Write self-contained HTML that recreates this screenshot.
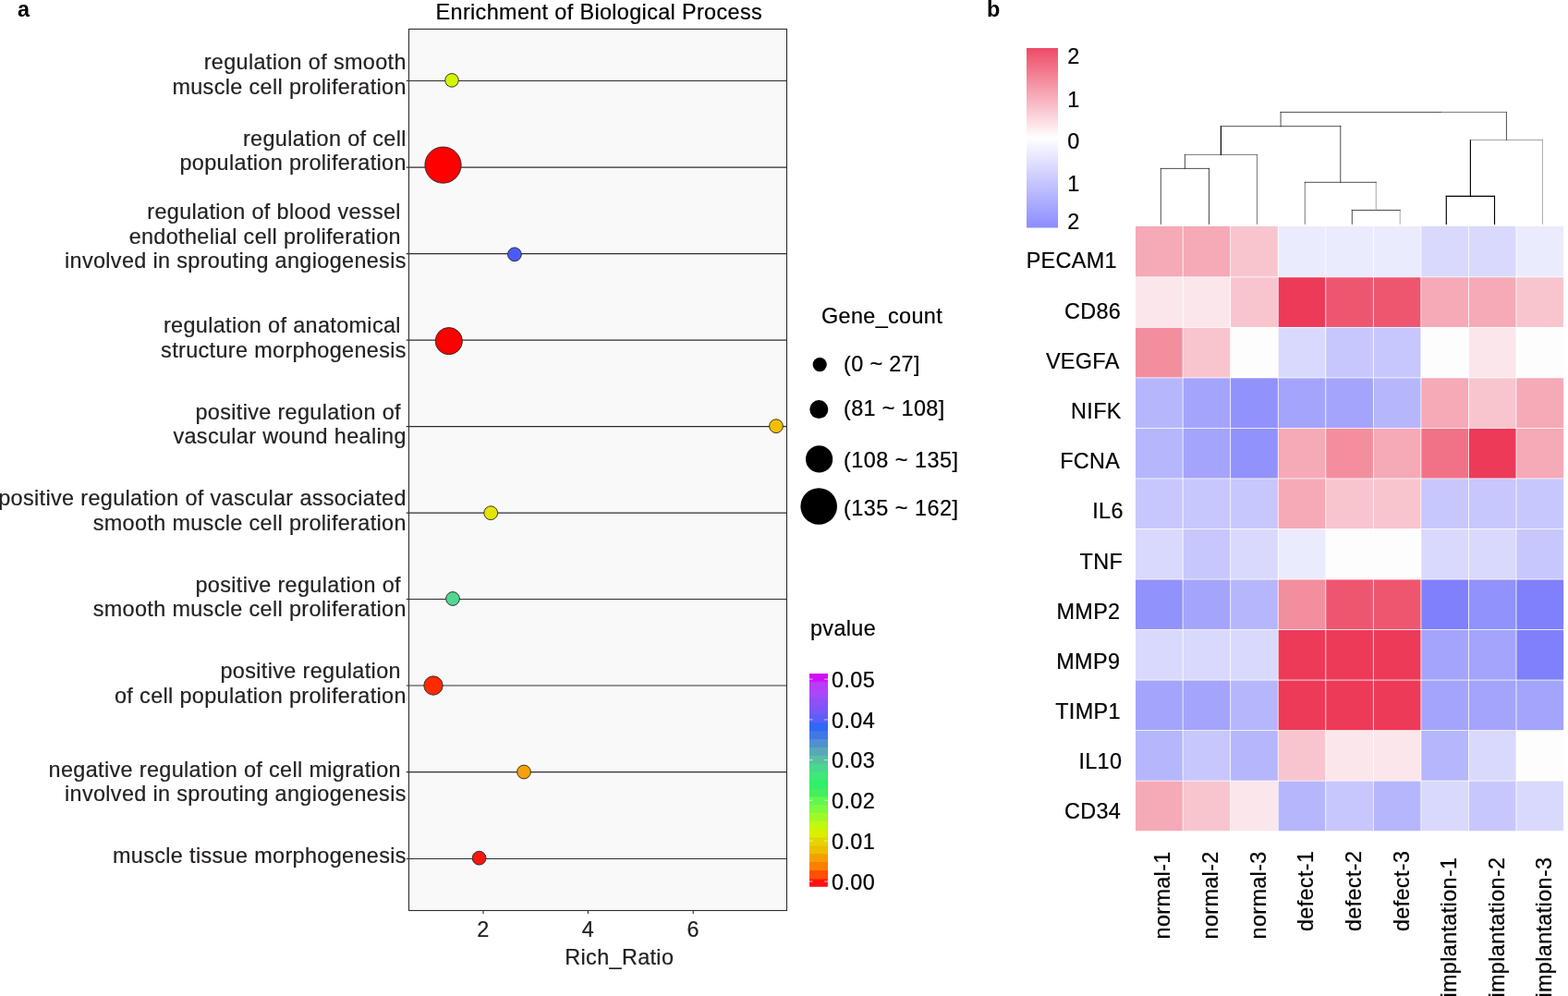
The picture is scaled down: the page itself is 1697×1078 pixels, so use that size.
<!DOCTYPE html>
<html lang="en">
<head>
<meta charset="utf-8">
<title>Enrichment of Biological Process</title>
<style>
html,body{margin:0;padding:0;background:#fff;}
body{width:1697px;height:1078px;overflow:hidden;}
svg{display:block;}
.t{font-family:"Liberation Sans", Arial, Helvetica, sans-serif;font-size:23.4px;letter-spacing:0.36px;fill:#231f20;stroke:#231f20;stroke-width:0.22px;}
.k{font-family:"Liberation Sans", Arial, Helvetica, sans-serif;font-size:23.4px;letter-spacing:0.36px;fill:#000;stroke:#000;stroke-width:0.22px;}
.b{font-family:"Liberation Sans", Arial, Helvetica, sans-serif;font-size:23.4px;font-weight:bold;fill:#000;}
</style>
</head>
<body>
<svg width="1697" height="1078" viewBox="0 0 1697 1078">
<rect x="0" y="0" width="1697" height="1078" fill="#ffffff"/>
<rect x="442.5" y="31.5" width="409.0" height="954.0" fill="#f9f9f9" stroke="#2e2e2e" stroke-width="1.1"/>
<line x1="439.7" y1="87.5" x2="851.5" y2="87.5" stroke="#2e2e2e" stroke-width="1.1"/>
<line x1="439.7" y1="181.1" x2="851.5" y2="181.1" stroke="#2e2e2e" stroke-width="1.1"/>
<line x1="439.7" y1="274.6" x2="851.5" y2="274.6" stroke="#2e2e2e" stroke-width="1.1"/>
<line x1="439.7" y1="368.1" x2="851.5" y2="368.1" stroke="#2e2e2e" stroke-width="1.1"/>
<line x1="439.7" y1="461.6" x2="851.5" y2="461.6" stroke="#2e2e2e" stroke-width="1.1"/>
<line x1="439.7" y1="555.1" x2="851.5" y2="555.1" stroke="#2e2e2e" stroke-width="1.1"/>
<line x1="439.7" y1="648.5" x2="851.5" y2="648.5" stroke="#2e2e2e" stroke-width="1.1"/>
<line x1="439.7" y1="742.0" x2="851.5" y2="742.0" stroke="#2e2e2e" stroke-width="1.1"/>
<line x1="439.7" y1="835.6" x2="851.5" y2="835.6" stroke="#2e2e2e" stroke-width="1.1"/>
<line x1="439.7" y1="929.5" x2="851.5" y2="929.5" stroke="#2e2e2e" stroke-width="1.1"/>
<line x1="523.0" y1="985.5" x2="523.0" y2="989.1" stroke="#2e2e2e" stroke-width="1.1"/>
<text x="523.0" y="1014.1" text-anchor="middle" class="t">2</text>
<line x1="636.4" y1="985.5" x2="636.4" y2="989.1" stroke="#2e2e2e" stroke-width="1.1"/>
<text x="636.4" y="1014.1" text-anchor="middle" class="t">4</text>
<line x1="750.2" y1="985.5" x2="750.2" y2="989.1" stroke="#2e2e2e" stroke-width="1.1"/>
<text x="750.2" y="1014.1" text-anchor="middle" class="t">6</text>
<text x="670.3" y="1043.7" text-anchor="middle" class="t">Rich_Ratio</text>
<text x="648.3" y="21" text-anchor="middle" class="k">Enrichment of Biological Process</text>
<text x="19" y="18" class="b">a</text>
<text x="1068" y="18" class="b">b</text>
<text x="439.8" y="74.8" text-anchor="end" class="t">regulation of smooth</text>
<text x="439.8" y="102.0" text-anchor="end" class="t">muscle cell proliferation</text>
<text x="439.8" y="158.0" text-anchor="end" class="t">regulation of cell</text>
<text x="439.8" y="183.6" text-anchor="end" class="t">population proliferation</text>
<text x="433.90000000000003" y="237.0" text-anchor="end" class="t">regulation of blood vessel</text>
<text x="433.90000000000003" y="263.8" text-anchor="end" class="t">endothelial cell proliferation</text>
<text x="439.8" y="289.5" text-anchor="end" class="t">involved in sprouting angiogenesis</text>
<text x="433.90000000000003" y="360.1" text-anchor="end" class="t">regulation of anatomical</text>
<text x="439.8" y="386.8" text-anchor="end" class="t">structure morphogenesis</text>
<text x="433.90000000000003" y="453.6" text-anchor="end" class="t">positive regulation of</text>
<text x="439.8" y="480.3" text-anchor="end" class="t">vascular wound healing</text>
<text x="439.8" y="547.1" text-anchor="end" class="t">positive regulation of vascular associated</text>
<text x="439.8" y="573.8" text-anchor="end" class="t">smooth muscle cell proliferation</text>
<text x="433.90000000000003" y="641.0" text-anchor="end" class="t">positive regulation of</text>
<text x="439.8" y="667.4" text-anchor="end" class="t">smooth muscle cell proliferation</text>
<text x="433.90000000000003" y="734.4" text-anchor="end" class="t">positive regulation</text>
<text x="439.8" y="760.6" text-anchor="end" class="t">of cell population proliferation</text>
<text x="433.90000000000003" y="840.9" text-anchor="end" class="t">negative regulation of cell migration</text>
<text x="439.8" y="867.0" text-anchor="end" class="t">involved in sprouting angiogenesis</text>
<text x="439.8" y="934.0" text-anchor="end" class="t">muscle tissue morphogenesis</text>
<circle cx="489.0" cy="86.9" r="7.3" fill="#d6f400" stroke="#262626" stroke-width="0.9"/>
<circle cx="479.5" cy="178.6" r="19.6" fill="#ff0000" stroke="#262626" stroke-width="0.9"/>
<circle cx="556.9" cy="275.3" r="7.4" fill="#4a5cf8" stroke="#262626" stroke-width="0.9"/>
<circle cx="485.8" cy="369.1" r="14.6" fill="#ff0000" stroke="#262626" stroke-width="0.9"/>
<circle cx="840.0" cy="461.2" r="7.4" fill="#f2c000" stroke="#262626" stroke-width="0.9"/>
<circle cx="531.2" cy="555.2" r="7.4" fill="#e2e400" stroke="#262626" stroke-width="0.9"/>
<circle cx="490.0" cy="648.0" r="7.4" fill="#52d690" stroke="#262626" stroke-width="0.9"/>
<circle cx="469.0" cy="742.0" r="10.2" fill="#ff2a00" stroke="#262626" stroke-width="0.9"/>
<circle cx="567.0" cy="835.5" r="7.4" fill="#f6a00c" stroke="#262626" stroke-width="0.9"/>
<circle cx="518.6" cy="928.7" r="7.4" fill="#f01a10" stroke="#262626" stroke-width="0.9"/>
<text x="889" y="350" class="k">Gene_count</text>
<circle cx="887.2" cy="394.6" r="7.6" fill="#000"/>
<text x="913" y="401.8" class="k">(0 ~ 27]</text>
<circle cx="886.3" cy="443.1" r="10.0" fill="#000"/>
<text x="913" y="450.0" class="k">(81 ~ 108]</text>
<circle cx="886.6" cy="496.9" r="14.6" fill="#000"/>
<text x="913" y="505.5" class="k" textLength="124.4" lengthAdjust="spacing">(108 ~ 135]</text>
<circle cx="886.2" cy="548.0" r="19.8" fill="#000"/>
<text x="913" y="558.0" class="k" textLength="124.4" lengthAdjust="spacing">(135 ~ 162]</text>
<text x="877" y="688" class="k">pvalue</text>
<rect x="876.0" y="729.0" width="19.90" height="230.80" fill="#ff1212"/>
<rect x="876.0" y="729.00" width="19.90" height="9.48" fill="#d010f8"/>
<rect x="876.0" y="737.88" width="19.90" height="9.48" fill="#b83cf8"/>
<rect x="876.0" y="746.75" width="19.90" height="9.48" fill="#a848f8"/>
<rect x="876.0" y="755.63" width="19.90" height="9.48" fill="#9050f8"/>
<rect x="876.0" y="764.51" width="19.90" height="9.48" fill="#7858f8"/>
<rect x="876.0" y="773.38" width="19.90" height="9.48" fill="#5a60f8"/>
<rect x="876.0" y="782.26" width="19.90" height="9.48" fill="#3068f8"/>
<rect x="876.0" y="791.14" width="19.90" height="9.48" fill="#4078e8"/>
<rect x="876.0" y="800.02" width="19.90" height="9.48" fill="#5090d0"/>
<rect x="876.0" y="808.89" width="19.90" height="9.48" fill="#58a8b8"/>
<rect x="876.0" y="817.77" width="19.90" height="9.48" fill="#58c0a0"/>
<rect x="876.0" y="826.65" width="19.90" height="9.48" fill="#48d890"/>
<rect x="876.0" y="835.52" width="19.90" height="9.48" fill="#40e878"/>
<rect x="876.0" y="844.40" width="19.90" height="9.48" fill="#30f068"/>
<rect x="876.0" y="853.28" width="19.90" height="9.48" fill="#40f060"/>
<rect x="876.0" y="862.15" width="19.90" height="9.48" fill="#60f850"/>
<rect x="876.0" y="871.03" width="19.90" height="9.48" fill="#80f840"/>
<rect x="876.0" y="879.91" width="19.90" height="9.48" fill="#a0f828"/>
<rect x="876.0" y="888.78" width="19.90" height="9.48" fill="#c0f810"/>
<rect x="876.0" y="897.66" width="19.90" height="9.48" fill="#d8f000"/>
<rect x="876.0" y="906.54" width="19.90" height="9.48" fill="#e4d400"/>
<rect x="876.0" y="915.42" width="19.90" height="9.48" fill="#ecc000"/>
<rect x="876.0" y="924.29" width="19.90" height="9.48" fill="#f4a000"/>
<rect x="876.0" y="933.17" width="19.90" height="9.48" fill="#fb8000"/>
<rect x="876.0" y="942.05" width="19.90" height="9.48" fill="#ff5000"/>
<text x="900.1" y="743.9" class="k">0.05</text>
<line x1="876.0" y1="735.1" x2="879.6" y2="735.1" stroke="#fff" stroke-opacity="0.85" stroke-width="0.8"/>
<line x1="892.1" y1="735.1" x2="895.9" y2="735.1" stroke="#fff" stroke-opacity="0.85" stroke-width="0.8"/>
<text x="900.1" y="787.7" class="k">0.04</text>
<line x1="876.0" y1="778.9" x2="879.6" y2="778.9" stroke="#fff" stroke-opacity="0.85" stroke-width="0.8"/>
<line x1="892.1" y1="778.9" x2="895.9" y2="778.9" stroke="#fff" stroke-opacity="0.85" stroke-width="0.8"/>
<text x="900.1" y="831.4" class="k">0.03</text>
<line x1="876.0" y1="822.6" x2="879.6" y2="822.6" stroke="#fff" stroke-opacity="0.85" stroke-width="0.8"/>
<line x1="892.1" y1="822.6" x2="895.9" y2="822.6" stroke="#fff" stroke-opacity="0.85" stroke-width="0.8"/>
<text x="900.1" y="875.2" class="k">0.02</text>
<line x1="876.0" y1="866.3" x2="879.6" y2="866.3" stroke="#fff" stroke-opacity="0.85" stroke-width="0.8"/>
<line x1="892.1" y1="866.3" x2="895.9" y2="866.3" stroke="#fff" stroke-opacity="0.85" stroke-width="0.8"/>
<text x="900.1" y="919.0" class="k">0.01</text>
<line x1="876.0" y1="910.1" x2="879.6" y2="910.1" stroke="#fff" stroke-opacity="0.85" stroke-width="0.8"/>
<line x1="892.1" y1="910.1" x2="895.9" y2="910.1" stroke="#fff" stroke-opacity="0.85" stroke-width="0.8"/>
<text x="900.1" y="962.8" class="k">0.00</text>
<line x1="876.0" y1="954.0" x2="879.6" y2="954.0" stroke="#fff" stroke-opacity="0.85" stroke-width="0.8"/>
<line x1="892.1" y1="954.0" x2="895.9" y2="954.0" stroke="#fff" stroke-opacity="0.85" stroke-width="0.8"/>
<defs><linearGradient id="hg" x1="0" y1="0" x2="0" y2="1"><stop offset="0" stop-color="#ee4b66"/><stop offset="0.5" stop-color="#ffffff"/><stop offset="1" stop-color="#8c8cff"/></linearGradient></defs>
<rect x="1111" y="52" width="34" height="194.5" fill="url(#hg)"/>
<text x="1155.3" y="68.5" class="k">2</text>
<text x="1155.3" y="116.0" class="k">1</text>
<text x="1155.3" y="160.8" class="k">0</text>
<text x="1155.3" y="206.6" class="k">1</text>
<text x="1155.3" y="247.5" class="k">2</text>
<rect x="1228.6" y="245.3" width="463.95" height="654.36" fill="#fff"/>
<rect x="1229.00" y="244.90" width="50.75" height="54.53" fill="#f6a9b7"/>
<rect x="1280.55" y="244.90" width="50.75" height="54.53" fill="#f6a9b7"/>
<rect x="1332.10" y="244.90" width="50.75" height="54.53" fill="#f8c5cf"/>
<rect x="1383.65" y="244.90" width="50.75" height="54.53" fill="#ebebfe"/>
<rect x="1435.20" y="244.90" width="50.75" height="54.53" fill="#ebebfe"/>
<rect x="1486.75" y="244.90" width="50.75" height="54.53" fill="#ebebfe"/>
<rect x="1538.30" y="244.90" width="50.75" height="54.53" fill="#d9d9fd"/>
<rect x="1589.85" y="244.90" width="50.75" height="54.53" fill="#d9d9fd"/>
<rect x="1641.40" y="244.90" width="50.75" height="54.53" fill="#ebebfe"/>
<text x="1209.00" y="290.2" text-anchor="end" class="k">PECAM1</text>
<rect x="1229.00" y="300.23" width="50.75" height="53.73" fill="#fbe6eb"/>
<rect x="1280.55" y="300.23" width="50.75" height="53.73" fill="#fbe6eb"/>
<rect x="1332.10" y="300.23" width="50.75" height="53.73" fill="#f8c5cf"/>
<rect x="1383.65" y="300.23" width="50.75" height="53.73" fill="#ec3a58"/>
<rect x="1435.20" y="300.23" width="50.75" height="53.73" fill="#ee5670"/>
<rect x="1486.75" y="300.23" width="50.75" height="53.73" fill="#ee5670"/>
<rect x="1538.30" y="300.23" width="50.75" height="53.73" fill="#f6a9b7"/>
<rect x="1589.85" y="300.23" width="50.75" height="53.73" fill="#f6a9b7"/>
<rect x="1641.40" y="300.23" width="50.75" height="53.73" fill="#f8c5cf"/>
<text x="1213.20" y="344.8" text-anchor="end" class="k">CD86</text>
<rect x="1229.00" y="354.76" width="50.75" height="53.73" fill="#f38e9f"/>
<rect x="1280.55" y="354.76" width="50.75" height="53.73" fill="#f8c5cf"/>
<rect x="1332.10" y="354.76" width="50.75" height="53.73" fill="#fdfdfe"/>
<rect x="1383.65" y="354.76" width="50.75" height="53.73" fill="#d9d9fd"/>
<rect x="1435.20" y="354.76" width="50.75" height="53.73" fill="#c7c7fd"/>
<rect x="1486.75" y="354.76" width="50.75" height="53.73" fill="#c7c7fd"/>
<rect x="1538.30" y="354.76" width="50.75" height="53.73" fill="#fdfdfe"/>
<rect x="1589.85" y="354.76" width="50.75" height="53.73" fill="#fbe6eb"/>
<rect x="1641.40" y="354.76" width="50.75" height="53.73" fill="#fdfdfe"/>
<text x="1211.70" y="399.0" text-anchor="end" class="k">VEGFA</text>
<rect x="1229.00" y="409.29" width="50.75" height="53.73" fill="#b6b6fd"/>
<rect x="1280.55" y="409.29" width="50.75" height="53.73" fill="#a4a4fd"/>
<rect x="1332.10" y="409.29" width="50.75" height="53.73" fill="#9292fc"/>
<rect x="1383.65" y="409.29" width="50.75" height="53.73" fill="#a4a4fd"/>
<rect x="1435.20" y="409.29" width="50.75" height="53.73" fill="#a4a4fd"/>
<rect x="1486.75" y="409.29" width="50.75" height="53.73" fill="#b6b6fd"/>
<rect x="1538.30" y="409.29" width="50.75" height="53.73" fill="#f6a9b7"/>
<rect x="1589.85" y="409.29" width="50.75" height="53.73" fill="#f8c5cf"/>
<rect x="1641.40" y="409.29" width="50.75" height="53.73" fill="#f6a9b7"/>
<text x="1213.75" y="453.4" text-anchor="end" class="k">NIFK</text>
<rect x="1229.00" y="463.82" width="50.75" height="53.73" fill="#b6b6fd"/>
<rect x="1280.55" y="463.82" width="50.75" height="53.73" fill="#a4a4fd"/>
<rect x="1332.10" y="463.82" width="50.75" height="53.73" fill="#9292fc"/>
<rect x="1383.65" y="463.82" width="50.75" height="53.73" fill="#f6a9b7"/>
<rect x="1435.20" y="463.82" width="50.75" height="53.73" fill="#f38e9f"/>
<rect x="1486.75" y="463.82" width="50.75" height="53.73" fill="#f6a9b7"/>
<rect x="1538.30" y="463.82" width="50.75" height="53.73" fill="#f17287"/>
<rect x="1589.85" y="463.82" width="50.75" height="53.73" fill="#ec3a58"/>
<rect x="1641.40" y="463.82" width="50.75" height="53.73" fill="#f6a9b7"/>
<text x="1212.35" y="507.1" text-anchor="end" class="k">FCNA</text>
<rect x="1229.00" y="518.35" width="50.75" height="53.73" fill="#c7c7fd"/>
<rect x="1280.55" y="518.35" width="50.75" height="53.73" fill="#c7c7fd"/>
<rect x="1332.10" y="518.35" width="50.75" height="53.73" fill="#c7c7fd"/>
<rect x="1383.65" y="518.35" width="50.75" height="53.73" fill="#f6a9b7"/>
<rect x="1435.20" y="518.35" width="50.75" height="53.73" fill="#f8c5cf"/>
<rect x="1486.75" y="518.35" width="50.75" height="53.73" fill="#f8c5cf"/>
<rect x="1538.30" y="518.35" width="50.75" height="53.73" fill="#c7c7fd"/>
<rect x="1589.85" y="518.35" width="50.75" height="53.73" fill="#c7c7fd"/>
<rect x="1641.40" y="518.35" width="50.75" height="53.73" fill="#c7c7fd"/>
<text x="1215.80" y="560.9" text-anchor="end" class="k">IL6</text>
<rect x="1229.00" y="572.88" width="50.75" height="53.73" fill="#d9d9fd"/>
<rect x="1280.55" y="572.88" width="50.75" height="53.73" fill="#c7c7fd"/>
<rect x="1332.10" y="572.88" width="50.75" height="53.73" fill="#d9d9fd"/>
<rect x="1383.65" y="572.88" width="50.75" height="53.73" fill="#ebebfe"/>
<rect x="1435.20" y="572.88" width="50.75" height="53.73" fill="#fdfdfe"/>
<rect x="1486.75" y="572.88" width="50.75" height="53.73" fill="#fdfdfe"/>
<rect x="1538.30" y="572.88" width="50.75" height="53.73" fill="#d9d9fd"/>
<rect x="1589.85" y="572.88" width="50.75" height="53.73" fill="#d9d9fd"/>
<rect x="1641.40" y="572.88" width="50.75" height="53.73" fill="#c7c7fd"/>
<text x="1215.05" y="615.7" text-anchor="end" class="k">TNF</text>
<rect x="1229.00" y="627.41" width="50.75" height="53.73" fill="#9292fc"/>
<rect x="1280.55" y="627.41" width="50.75" height="53.73" fill="#a4a4fd"/>
<rect x="1332.10" y="627.41" width="50.75" height="53.73" fill="#b6b6fd"/>
<rect x="1383.65" y="627.41" width="50.75" height="53.73" fill="#f38e9f"/>
<rect x="1435.20" y="627.41" width="50.75" height="53.73" fill="#ee5670"/>
<rect x="1486.75" y="627.41" width="50.75" height="53.73" fill="#ee5670"/>
<rect x="1538.30" y="627.41" width="50.75" height="53.73" fill="#8080fc"/>
<rect x="1589.85" y="627.41" width="50.75" height="53.73" fill="#9292fc"/>
<rect x="1641.40" y="627.41" width="50.75" height="53.73" fill="#8080fc"/>
<text x="1212.50" y="669.6" text-anchor="end" class="k">MMP2</text>
<rect x="1229.00" y="681.94" width="50.75" height="53.73" fill="#d9d9fd"/>
<rect x="1280.55" y="681.94" width="50.75" height="53.73" fill="#d9d9fd"/>
<rect x="1332.10" y="681.94" width="50.75" height="53.73" fill="#d9d9fd"/>
<rect x="1383.65" y="681.94" width="50.75" height="53.73" fill="#ec3a58"/>
<rect x="1435.20" y="681.94" width="50.75" height="53.73" fill="#ec3a58"/>
<rect x="1486.75" y="681.94" width="50.75" height="53.73" fill="#ec3a58"/>
<rect x="1538.30" y="681.94" width="50.75" height="53.73" fill="#a4a4fd"/>
<rect x="1589.85" y="681.94" width="50.75" height="53.73" fill="#a4a4fd"/>
<rect x="1641.40" y="681.94" width="50.75" height="53.73" fill="#8080fc"/>
<text x="1212.30" y="723.8" text-anchor="end" class="k">MMP9</text>
<rect x="1229.00" y="736.47" width="50.75" height="53.73" fill="#a4a4fd"/>
<rect x="1280.55" y="736.47" width="50.75" height="53.73" fill="#a4a4fd"/>
<rect x="1332.10" y="736.47" width="50.75" height="53.73" fill="#b6b6fd"/>
<rect x="1383.65" y="736.47" width="50.75" height="53.73" fill="#ec3a58"/>
<rect x="1435.20" y="736.47" width="50.75" height="53.73" fill="#ec3a58"/>
<rect x="1486.75" y="736.47" width="50.75" height="53.73" fill="#ec3a58"/>
<rect x="1538.30" y="736.47" width="50.75" height="53.73" fill="#a4a4fd"/>
<rect x="1589.85" y="736.47" width="50.75" height="53.73" fill="#a4a4fd"/>
<rect x="1641.40" y="736.47" width="50.75" height="53.73" fill="#a4a4fd"/>
<text x="1212.90" y="777.9" text-anchor="end" class="k">TIMP1</text>
<rect x="1229.00" y="791.00" width="50.75" height="53.73" fill="#b6b6fd"/>
<rect x="1280.55" y="791.00" width="50.75" height="53.73" fill="#c7c7fd"/>
<rect x="1332.10" y="791.00" width="50.75" height="53.73" fill="#b6b6fd"/>
<rect x="1383.65" y="791.00" width="50.75" height="53.73" fill="#f8c5cf"/>
<rect x="1435.20" y="791.00" width="50.75" height="53.73" fill="#fbe6eb"/>
<rect x="1486.75" y="791.00" width="50.75" height="53.73" fill="#fbe6eb"/>
<rect x="1538.30" y="791.00" width="50.75" height="53.73" fill="#b6b6fd"/>
<rect x="1589.85" y="791.00" width="50.75" height="53.73" fill="#d9d9fd"/>
<rect x="1641.40" y="791.00" width="50.75" height="53.73" fill="#fdfdfe"/>
<text x="1214.35" y="831.6" text-anchor="end" class="k">IL10</text>
<rect x="1229.00" y="845.53" width="50.75" height="53.73" fill="#f6a9b7"/>
<rect x="1280.55" y="845.53" width="50.75" height="53.73" fill="#f8c5cf"/>
<rect x="1332.10" y="845.53" width="50.75" height="53.73" fill="#fbe6eb"/>
<rect x="1383.65" y="845.53" width="50.75" height="53.73" fill="#b6b6fd"/>
<rect x="1435.20" y="845.53" width="50.75" height="53.73" fill="#c7c7fd"/>
<rect x="1486.75" y="845.53" width="50.75" height="53.73" fill="#b6b6fd"/>
<rect x="1538.30" y="845.53" width="50.75" height="53.73" fill="#d9d9fd"/>
<rect x="1589.85" y="845.53" width="50.75" height="53.73" fill="#c7c7fd"/>
<rect x="1641.40" y="845.53" width="50.75" height="53.73" fill="#d9d9fd"/>
<text x="1213.15" y="886.0" text-anchor="end" class="k">CD34</text>
<text transform="translate(1266.1,921.3) rotate(-90)" text-anchor="end" class="k" letter-spacing="0.47">normal-1</text>
<text transform="translate(1318.3,921.3) rotate(-90)" text-anchor="end" class="k" letter-spacing="0.47">normal-2</text>
<text transform="translate(1370.0,921.3) rotate(-90)" text-anchor="end" class="k" letter-spacing="0.47">normal-3</text>
<text transform="translate(1421.0,920.7) rotate(-90)" text-anchor="end" class="k">defect-1</text>
<text transform="translate(1473.2,920.7) rotate(-90)" text-anchor="end" class="k">defect-2</text>
<text transform="translate(1524.7,920.7) rotate(-90)" text-anchor="end" class="k">defect-3</text>
<text transform="translate(1575.7,927.6) rotate(-90)" text-anchor="end" class="k">implantation-1</text>
<text transform="translate(1627.7,927.6) rotate(-90)" text-anchor="end" class="k">implantation-2</text>
<text transform="translate(1679.2,927.6) rotate(-90)" text-anchor="end" class="k">implantation-3</text>
<line x1="1256.3" y1="242.4" x2="1256.3" y2="182.4" stroke="#222" stroke-width="0.8" stroke-linecap="square"/>
<line x1="1308.5" y1="242.4" x2="1308.5" y2="182.4" stroke="#222" stroke-width="0.8" stroke-linecap="square"/>
<line x1="1256.3" y1="182.4" x2="1308.5" y2="182.4" stroke="#222" stroke-width="0.8" stroke-linecap="square"/>
<line x1="1282.4" y1="182.4" x2="1282.4" y2="167.4" stroke="#222" stroke-width="0.8" stroke-linecap="square"/>
<line x1="1282.4" y1="167.4" x2="1360.4" y2="167.4" stroke="#4a4a4a" stroke-width="0.75" stroke-linecap="square"/>
<line x1="1360.4" y1="242.4" x2="1360.4" y2="167.4" stroke="#4a4a4a" stroke-width="0.75" stroke-linecap="square"/>
<line x1="1463.3" y1="242.4" x2="1463.3" y2="227.5" stroke="#222" stroke-width="0.8" stroke-linecap="square"/>
<line x1="1515.2" y1="242.4" x2="1515.2" y2="227.5" stroke="#777" stroke-width="0.65" stroke-linecap="square"/>
<line x1="1463.3" y1="227.5" x2="1515.2" y2="227.5" stroke="#222" stroke-width="0.8" stroke-linecap="square"/>
<line x1="1412.3" y1="242.4" x2="1412.3" y2="197.3" stroke="#4a4a4a" stroke-width="0.75" stroke-linecap="square"/>
<line x1="1489.25" y1="227.5" x2="1489.25" y2="197.3" stroke="#777" stroke-width="0.65" stroke-linecap="square"/>
<line x1="1412.3" y1="197.3" x2="1489.25" y2="197.3" stroke="#222" stroke-width="0.8" stroke-linecap="square"/>
<line x1="1321.4" y1="167.4" x2="1321.4" y2="136.7" stroke="#000" stroke-width="1.15" stroke-linecap="square"/>
<line x1="1450.775" y1="197.3" x2="1450.775" y2="136.7" stroke="#222" stroke-width="0.8" stroke-linecap="square"/>
<line x1="1321.4" y1="136.7" x2="1450.775" y2="136.7" stroke="#222" stroke-width="0.8" stroke-linecap="square"/>
<line x1="1565.3" y1="242.4" x2="1565.3" y2="212.3" stroke="#000" stroke-width="1.15" stroke-linecap="square"/>
<line x1="1617.5" y1="242.4" x2="1617.5" y2="212.3" stroke="#000" stroke-width="1.15" stroke-linecap="square"/>
<line x1="1565.3" y1="212.3" x2="1617.5" y2="212.3" stroke="#000" stroke-width="1.15" stroke-linecap="square"/>
<line x1="1591.4" y1="212.3" x2="1591.4" y2="151.5" stroke="#000" stroke-width="1.15" stroke-linecap="square"/>
<line x1="1669.4" y1="242.4" x2="1669.4" y2="151.5" stroke="#777" stroke-width="0.65" stroke-linecap="square"/>
<line x1="1591.4" y1="151.5" x2="1669.4" y2="151.5" stroke="#777" stroke-width="0.65" stroke-linecap="square"/>
<line x1="1386.0875" y1="136.7" x2="1386.0875" y2="121.4" stroke="#222" stroke-width="0.8" stroke-linecap="square"/>
<line x1="1630.4" y1="151.5" x2="1630.4" y2="121.4" stroke="#222" stroke-width="0.8" stroke-linecap="square"/>
<line x1="1386.0875" y1="121.4" x2="1559.0" y2="121.4" stroke="#222" stroke-width="0.8" stroke-linecap="square"/>
<line x1="1559.0" y1="121.4" x2="1630.4" y2="121.4" stroke="#4a4a4a" stroke-width="0.75" stroke-linecap="square"/>
</svg>
</body>
</html>
